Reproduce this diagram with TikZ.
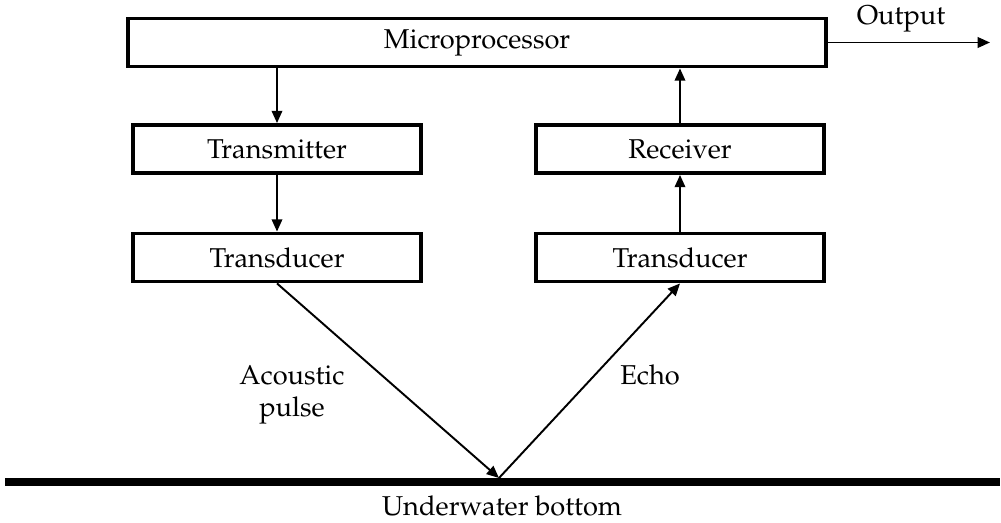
\documentclass[tikz,border=0pt]{standalone}
\usepackage[T1]{fontenc}
\usepackage{mathpazo}
\usepackage{tikz}
\usetikzlibrary{arrows.meta}
\tikzset{
    every node/.style={font=\fontsize{15.5}{18}\selectfont},
    block/.style={draw, line width=2.2pt, minimum height=0.96cm, inner sep=0pt},
    flow/.style={-{Triangle[length=7pt,width=6pt]}, line width=1.1pt}
}
\begin{document}
\begin{tikzpicture}
                \useasboundingbox (0,0) rectangle (20.02,10.44);
                
                % Draw processing blocks
                \node[block, minimum width=13.96cm] (micro) at (9.54,9.59) {Microprocessor};
                \node[block, minimum width=5.76cm] (tx) at (5.54,7.46) {Transmitter};
                \node[block, minimum width=5.76cm] (tdl) at (5.54,5.29) {Transducer};
                \node[block, minimum width=5.76cm] (rx) at (13.6,7.46) {Receiver};
                \node[block, minimum width=5.76cm] (tdr) at (13.6,5.29) {Transducer};
                
                % Draw signal arrows
                \draw[flow] (micro.south -| tx) -- (tx);
                \draw[flow] (tx) -- (tdl);
                \draw[flow] (tdr) -- (rx);
                \draw[flow] (rx) -- (micro.south -| rx);
                \coordinate (out) at (19.8,9.59);
                \draw[flow] (micro) -- (out);
                \node (outlbl) at (18.02,10.06) {Output};
                
                % Draw bottom and sound path
                \coordinate (bl) at (0.1,0.8);
                \coordinate (br) at (20.0,0.8);
                \draw[line width=4.5pt] (bl) -- (br);
                \coordinate (hit) at (9.98,0.88);
                \draw[flow] (tdl.south) -- (hit);
                \draw[flow] (hit) -- (tdr.south);
                \node[inner sep=1pt] (bottom) at (10.04,0.33) {Underwater bottom};
                \node[align=center] (pulse) at (5.84,2.54) {Acoustic\\pulse};
                \node (echo) at (13.0,2.94) {Echo};
            \end{tikzpicture}
\end{document}
